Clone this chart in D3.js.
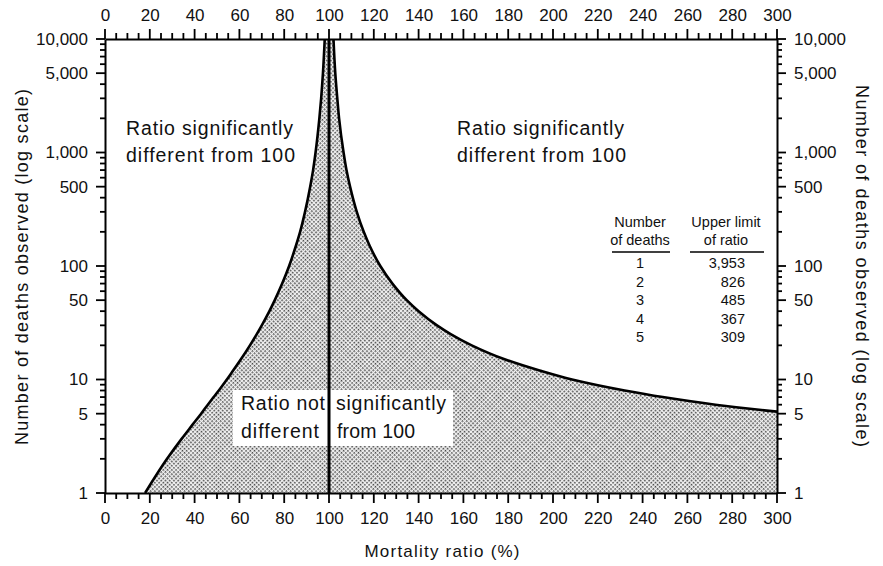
<!DOCTYPE html>
<html lang="en">
<head>
<meta charset="utf-8">
<title>Mortality ratio significance</title>
<script src="https://d3js.org/d3.v7.min.js"></script>
<style>
  body { margin: 0; padding: 0; background: #fff; }
  svg { display: block; font-family: "Liberation Sans", Arial, Helvetica, sans-serif; }
  .axis text { font-size: 17px; fill: #111; }
  .note { font-size: 19.5px; fill: #111; }
  .tbl { font-size: 14.5px; fill: #111; }
</style>
</head>
<body>
<div id="chart"></div>
<script>
// deaths observed and the 95% limits of the mortality ratio (%)
var deaths     = [1, 2, 3, 4, 5, 6, 7, 8, 10, 12, 15, 20, 25, 30, 40, 50, 70, 100, 150, 200, 300, 500, 700, 1000, 2000, 3000, 5000, 10000];
var lowerRatio = [17.9, 27.7, 34.2, 39.1, 42.9, 45.9, 48.5, 50.8, 54.4, 57.2, 60.6, 64.7, 67.7, 70.0, 73.4, 75.8, 79.1, 82.2, 85.2, 87.1, 89.3, 91.6, 92.9, 94.0, 95.7, 96.5, 97.3, 98.1];
var upperRatio = [3953, 826, 485, 367, 309, 272.5, 249, 232, 208.5, 194, 178.7, 163.7, 154.5, 148.2, 140.0, 134.7, 128.3, 122.9, 118.2, 115.5, 112.4, 109.4, 107.8, 106.5, 104.5, 103.7, 102.8, 102.0];

// inset table
var tableDeaths = ["1", "2", "3", "4", "5"];
var tableUpper  = ["3,953", "826", "485", "367", "309"];

// tick labels
var xTicks = [0, 20, 40, 60, 80, 100, 120, 140, 160, 180, 200, 220, 240, 260, 280, 300];
var yTicks = [1, 5, 10, 50, 100, 500, 1000, 5000, 10000];

var W = 883, H = 566;
var pLeft = 105, pRight = 777, pTop = 39, pBottom = 493;

var svg = d3.select("#chart").append("svg")
    .attr("width", W)
    .attr("height", H);

var x = d3.scaleLinear().domain([0, 300]).range([pLeft, pRight]);
var y = d3.scaleLog().domain([1, 10000]).range([pBottom, pTop]);

var xMinor = d3.range(0, 301, 5).filter(function(v) { return v % 20 !== 0; });
var yMinor = [];
[1, 10, 100, 1000].forEach(function(p) {
  [2, 3, 4, 6, 7, 8, 9].forEach(function(m) { yMinor.push(m * p); });
});

// stipple pattern
var defs = svg.append("defs");
var pat = defs.append("pattern")
    .attr("id", "stipple")
    .attr("patternUnits", "userSpaceOnUse")
    .attr("width", 3).attr("height", 3)
    .attr("patternTransform", "rotate(45)");
pat.append("rect").attr("width", 3).attr("height", 3).attr("fill", "#f2f2f2");
pat.append("rect").attr("width", 1.6).attr("height", 1.6).attr("fill", "#444");

var rows = deaths.map(function(d, i) {
  return { d: d, lo: lowerRatio[i], hi: upperRatio[i] };
});

// plot window: a nested svg keeps the marks inside the frame
var g = svg.append("svg")
    .attr("x", pLeft).attr("y", pTop)
    .attr("width", pRight - pLeft).attr("height", pBottom - pTop)
  .append("g")
    .attr("transform", "translate(" + (-pLeft) + "," + (-pTop) + ")");

// non-significant region
var area = d3.area()
    .curve(d3.curveMonotoneY)
    .y(function(r) { return y(r.d); })
    .x0(function(r) { return x(r.lo); })
    .x1(function(r) { return x(r.hi); });

g.append("path")
    .datum(rows)
    .attr("d", area)
    .attr("fill", "url(#stipple)");

// boundary curves
var loLine = d3.line().curve(d3.curveMonotoneY)
    .x(function(r) { return x(r.lo); })
    .y(function(r) { return y(r.d); });
var hiLine = d3.line().curve(d3.curveMonotoneY)
    .x(function(r) { return x(r.hi); })
    .y(function(r) { return y(r.d); });

g.append("path").datum(rows).attr("d", loLine)
    .attr("fill", "none").attr("stroke", "#000").attr("stroke-width", 2.6);
g.append("path").datum(rows).attr("d", hiLine)
    .attr("fill", "none").attr("stroke", "#000").attr("stroke-width", 2.6);

// label box inside the region
svg.append("rect")
    .attr("x", 233).attr("y", 390)
    .attr("width", 220).attr("height", 56)
    .attr("fill", "#fff");

// ratio = 100 line
svg.append("line")
    .attr("x1", x(100)).attr("x2", x(100))
    .attr("y1", y(1)).attr("y2", y(10000))
    .attr("stroke", "#000").attr("stroke-width", 3);

// axes: d3 axes give the frame lines and labels
function drawAxis(axis, tx, ty) {
  var a = svg.append("g").attr("class", "axis")
      .attr("transform", "translate(" + tx + "," + ty + ")")
      .call(axis);
  a.select(".domain").attr("stroke", "#000").attr("stroke-width", 2);
  a.selectAll(".tick line").remove();
  return a;
}

drawAxis(d3.axisTop(x).tickValues(xTicks).tickSize(0).tickPadding(18), 0, pTop);
drawAxis(d3.axisBottom(x).tickValues(xTicks).tickSize(0).tickPadding(19), 0, pBottom);
drawAxis(d3.axisLeft(y).tickValues(yTicks).tickSize(0).tickPadding(17).tickFormat(d3.format(",")), pLeft, 0);
drawAxis(d3.axisRight(y).tickValues(yTicks).tickSize(0).tickPadding(17).tickFormat(d3.format(",")), pRight, 0);

// region notes
function note(tx, ty, str, len) {
  svg.append("text").attr("class", "note")
      .attr("x", tx).attr("y", ty)
      .attr("textLength", len).attr("lengthAdjust", "spacing")
      .text(str);
}
note(126, 135, "Ratio significantly", 167);
note(126, 162, "different from 100", 169);
note(457, 135, "Ratio significantly", 167);
note(457, 162, "different from 100", 169);
note(241, 410, "Ratio not", 84);
note(336, 410, "significantly", 110);
note(241, 438, "different", 78);
note(337, 438, "from 100", 78);

// inset table
var tb = svg.append("g").attr("class", "tbl");
tb.append("text").attr("x", 640).attr("y", 227).attr("text-anchor", "middle").text("Number");
tb.append("text").attr("x", 640).attr("y", 245).attr("text-anchor", "middle").text("of deaths");
tb.append("text").attr("x", 726).attr("y", 227).attr("text-anchor", "middle").text("Upper limit");
tb.append("text").attr("x", 726).attr("y", 245).attr("text-anchor", "middle").text("of ratio");
tb.append("line").attr("x1", 612).attr("x2", 670).attr("y1", 252).attr("y2", 252)
    .attr("stroke", "#000").attr("stroke-width", 1.6);
tb.append("line").attr("x1", 690).attr("x2", 764).attr("y1", 252).attr("y2", 252)
    .attr("stroke", "#000").attr("stroke-width", 1.6);

var rowY = d3.scaleLinear().domain([0, 4]).range([268, 342]);
tb.selectAll("text.dn").data(tableDeaths).enter().append("text")
    .attr("class", "dn")
    .attr("x", 640).attr("y", function(d, i) { return rowY(i); })
    .attr("text-anchor", "middle").text(function(d) { return d; });
tb.selectAll("text.up").data(tableUpper).enter().append("text")
    .attr("class", "up")
    .attr("x", 745).attr("y", function(d, i) { return rowY(i); })
    .attr("text-anchor", "end").text(function(d) { return d; });

// axis titles
svg.append("text")
    .attr("transform", "translate(28,267) rotate(-90)")
    .attr("text-anchor", "middle")
    .attr("font-size", 18).attr("fill", "#111")
    .attr("textLength", 356).attr("lengthAdjust", "spacing")
    .text("Number of deaths observed (log scale)");

svg.append("text")
    .attr("transform", "translate(856,266) rotate(90)")
    .attr("text-anchor", "middle")
    .attr("font-size", 18).attr("fill", "#111")
    .attr("textLength", 362).attr("lengthAdjust", "spacing")
    .text("Number of deaths observed (log scale)");

svg.append("text")
    .attr("x", 442).attr("y", 557)
    .attr("text-anchor", "middle")
    .attr("font-size", 17).attr("fill", "#111")
    .attr("textLength", 155).attr("lengthAdjust", "spacing")
    .text("Mortality ratio (%)");

// tick marks, drawn last as thin filled bars placed by the scales
var tickW = 1.8;
function xMarks(vals, yy, len) {
  svg.append("g").selectAll("rect").data(vals).enter().append("rect")
      .attr("x", function(d) { return x(d) - tickW / 2; })
      .attr("y", Math.min(yy, yy + len))
      .attr("width", tickW)
      .attr("height", Math.abs(len))
      .attr("fill", "#000");
}
function yMarks(vals, xx, len) {
  svg.append("g").selectAll("rect").data(vals).enter().append("rect")
      .attr("y", function(d) { return y(d) - tickW / 2; })
      .attr("x", Math.min(xx, xx + len))
      .attr("height", tickW)
      .attr("width", Math.abs(len))
      .attr("fill", "#000");
}
xMarks(xTicks, pTop, -10);
xMarks(xMinor, pTop, -6);
xMarks(xTicks, pBottom, 10);
xMarks(xMinor, pBottom, 6);
yMarks(yTicks, pLeft, -9);
yMarks(yMinor, pLeft, -5);
yMarks(yTicks, pRight, 9);
yMarks(yMinor, pRight, 5);
</script>
</body>
</html>
